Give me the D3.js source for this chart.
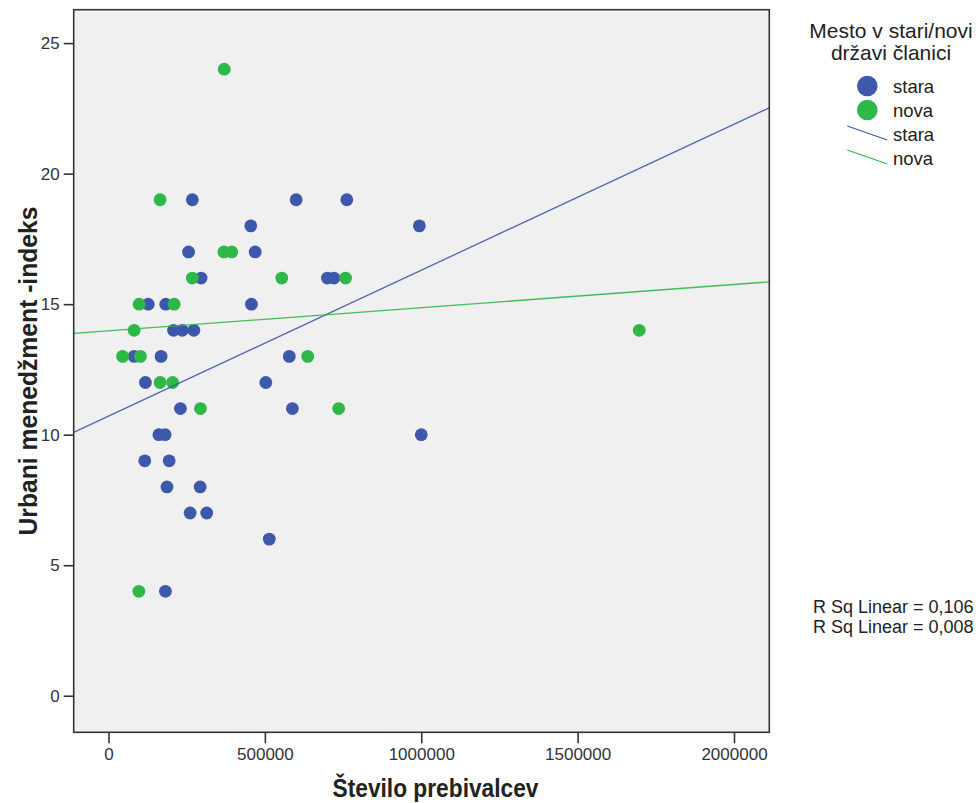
<!DOCTYPE html>
<html>
<head>
<meta charset="utf-8">
<script src="https://cdn.jsdelivr.net/npm/d3@7"></script>
<style>
  html, body { margin: 0; padding: 0; background: #ffffff; }
  svg { display: block; }
  text { font-family: "Liberation Sans", Arial, sans-serif; }
</style>
</head>
<body>
<svg id="chart" width="979" height="803"></svg>
<script>
// Population (x) and urban management index (y) for cities in old ("stara") member states
const staraPopulation = [
  268000, 600000, 762000,
  455000, 994000,
  256000, 469000,
  296000, 700000, 721000,
  127000, 183000, 457000,
  208000, 236000, 273000,
  82000, 168000, 578000,
  118000, 503000,
  230000, 588000,
  161000, 181000, 1000000,
  116000, 194000,
  187000, 293000,
  261000, 314000,
  514000,
  182000
];
const staraIndex = [
  19, 19, 19,
  18, 18,
  17, 17,
  16, 16, 16,
  15, 15, 15,
  14, 14, 14,
  13, 13, 13,
  12, 12,
  11, 11,
  10, 10, 10,
  9, 9,
  8, 8,
  7, 7,
  6,
  4
];

// Population and index for cities in new ("nova") member states
const novaPopulation = [
  370000,
  165000,
  369000, 394000,
  268000, 554000, 758000,
  98000, 210000,
  82000, 1697000,
  45000, 102000, 637000,
  165000, 205000,
  294000, 736000,
  97000
];
const novaIndex = [
  24,
  19,
  17, 17,
  16, 16, 16,
  15, 15,
  14, 14,
  13, 13, 13,
  12, 12,
  11, 11,
  4
];

const groupNames = ["stara", "nova"];
const groupColors = ["#3e58ac", "#2eb848"];
const xTicks = [0, 500000, 1000000, 1500000, 2000000];
const yTicks = [0, 5, 10, 15, 20, 25];
const rSqLabels = ["R Sq Linear = 0,106", "R Sq Linear = 0,008"];
const legendTitle = ["Mesto v stari/novi", "državi članici"];
const xTitle = "Število prebivalcev";
const yTitle = "Urbani menedžment -indeks";

const groups = [
  { name: groupNames[0], color: groupColors[0],
    points: staraPopulation.map((x, i) => ({ x, y: staraIndex[i] })) },
  { name: groupNames[1], color: groupColors[1],
    points: novaPopulation.map((x, i) => ({ x, y: novaIndex[i] })) }
];

// Ordinary least squares fit y = a + b x
function linearFit(pts) {
  const mx = d3.mean(pts, d => d.x), my = d3.mean(pts, d => d.y);
  let sxy = 0, sxx = 0;
  pts.forEach(d => { sxy += (d.x - mx) * (d.y - my); sxx += (d.x - mx) * (d.x - mx); });
  const b = sxy / sxx;
  return { a: my - b * mx, b };
}

const svg = d3.select("#chart");
const plot = { left: 73.7, top: 9.7, right: 769.3, bottom: 732.3 };

const x = d3.scaleLinear().domain([-111300, 2112900]).range([plot.left, plot.right]);
const y = d3.scaleLinear().domain([-1.40, 26.28]).range([plot.bottom, plot.top]);

// Plot background
svg.append("rect")
  .attr("x", plot.left).attr("y", plot.top)
  .attr("width", plot.right - plot.left).attr("height", plot.bottom - plot.top)
  .attr("fill", "#f0f0f0");

svg.append("clipPath").attr("id", "plotClip")
  .append("rect")
  .attr("x", plot.left).attr("y", plot.top)
  .attr("width", plot.right - plot.left).attr("height", plot.bottom - plot.top);

// Points
const pointLayer = svg.append("g").attr("clip-path", "url(#plotClip)");
groups.forEach(g => {
  pointLayer.append("g").selectAll("circle")
    .data(g.points)
    .join("circle")
    .attr("cx", d => x(d.x))
    .attr("cy", d => y(d.y))
    .attr("r", 6.4)
    .attr("fill", g.color);
});

// Fit lines across the full x range
const lineLayer = svg.append("g").attr("clip-path", "url(#plotClip)");
groups.forEach(g => {
  const f = linearFit(g.points);
  const [x0, x1] = x.domain();
  lineLayer.append("line")
    .attr("x1", x(x0)).attr("y1", y(f.a + f.b * x0))
    .attr("x2", x(x1)).attr("y2", y(f.a + f.b * x1))
    .attr("stroke", g.color)
    .attr("stroke-width", 1.3)
    .attr("opacity", 0.9);
});

// Axes
const axisColor = "#333333";
const xAxis = svg.append("g")
  .attr("transform", `translate(0,${plot.bottom})`)
  .call(d3.axisBottom(x).tickValues(xTicks).tickFormat(d3.format("d")).tickSize(11).tickPadding(5));
const yAxis = svg.append("g")
  .attr("transform", `translate(${plot.left},0)`)
  .call(d3.axisLeft(y).tickValues(yTicks).tickFormat(d3.format("d")).tickSize(10).tickPadding(4));
[xAxis, yAxis].forEach(ax => {
  ax.select(".domain").remove();
  ax.selectAll("line").attr("stroke", axisColor).attr("stroke-width", 1.6);
  ax.selectAll("text")
    .attr("fill", "#333333")
    .style("font-family", "'Liberation Sans', Arial, sans-serif")
    .style("font-size", "17px");
});

// Plot frame
svg.append("rect")
  .attr("x", plot.left).attr("y", plot.top)
  .attr("width", plot.right - plot.left).attr("height", plot.bottom - plot.top)
  .attr("fill", "none")
  .attr("stroke", axisColor)
  .attr("stroke-width", 1.6);

// Axis titles (condensed bold)
svg.append("text")
  .attr("x", (plot.left + plot.right) / 2 + 14)
  .attr("y", 797)
  .attr("text-anchor", "middle")
  .attr("textLength", 206)
  .attr("lengthAdjust", "spacingAndGlyphs")
  .style("font-weight", "bold")
  .style("font-size", "26px")
  .attr("fill", "#222")
  .text(xTitle);

svg.append("text")
  .attr("transform", `translate(37,${(plot.top + plot.bottom) / 2}) rotate(-90)`)
  .attr("text-anchor", "middle")
  .attr("textLength", 329)
  .attr("lengthAdjust", "spacingAndGlyphs")
  .style("font-weight", "bold")
  .style("font-size", "26px")
  .attr("fill", "#222")
  .text(yTitle);

// Legend
const legend = svg.append("g");
legend.selectAll("text.title")
  .data(legendTitle)
  .join("text")
  .attr("class", "title")
  .attr("x", 891)
  .attr("y", (d, i) => 37.5 + i * 22.5)
  .attr("text-anchor", "middle")
  .style("font-size", "21px")
  .attr("fill", "#222")
  .text(d => d);

groups.forEach((g, i) => {
  const cy = 86 + i * 24;
  legend.append("circle")
    .attr("cx", 867.3).attr("cy", cy).attr("r", 10.3)
    .attr("fill", g.color);
  legend.append("text")
    .attr("x", 893).attr("y", cy + 6.5)
    .style("font-size", "18.5px")
    .attr("fill", "#222")
    .text(g.name);
});
groups.forEach((g, i) => {
  const ly = 126 + i * 24;
  legend.append("line")
    .attr("x1", 847.3).attr("y1", ly)
    .attr("x2", 887.3).attr("y2", ly + 14)
    .attr("stroke", g.color).attr("stroke-width", 1.3);
  legend.append("text")
    .attr("x", 893).attr("y", ly + 15)
    .style("font-size", "18.5px")
    .attr("fill", "#222")
    .text(g.name);
});

// Fit statistics
svg.append("g").selectAll("text")
  .data(rSqLabels)
  .join("text")
  .attr("x", 973.5)
  .attr("y", (d, i) => 613 + i * 19.5)
  .attr("text-anchor", "end")
  .style("font-size", "18px")
  .attr("fill", "#222")
  .text(d => d);
</script>
</body>
</html>
